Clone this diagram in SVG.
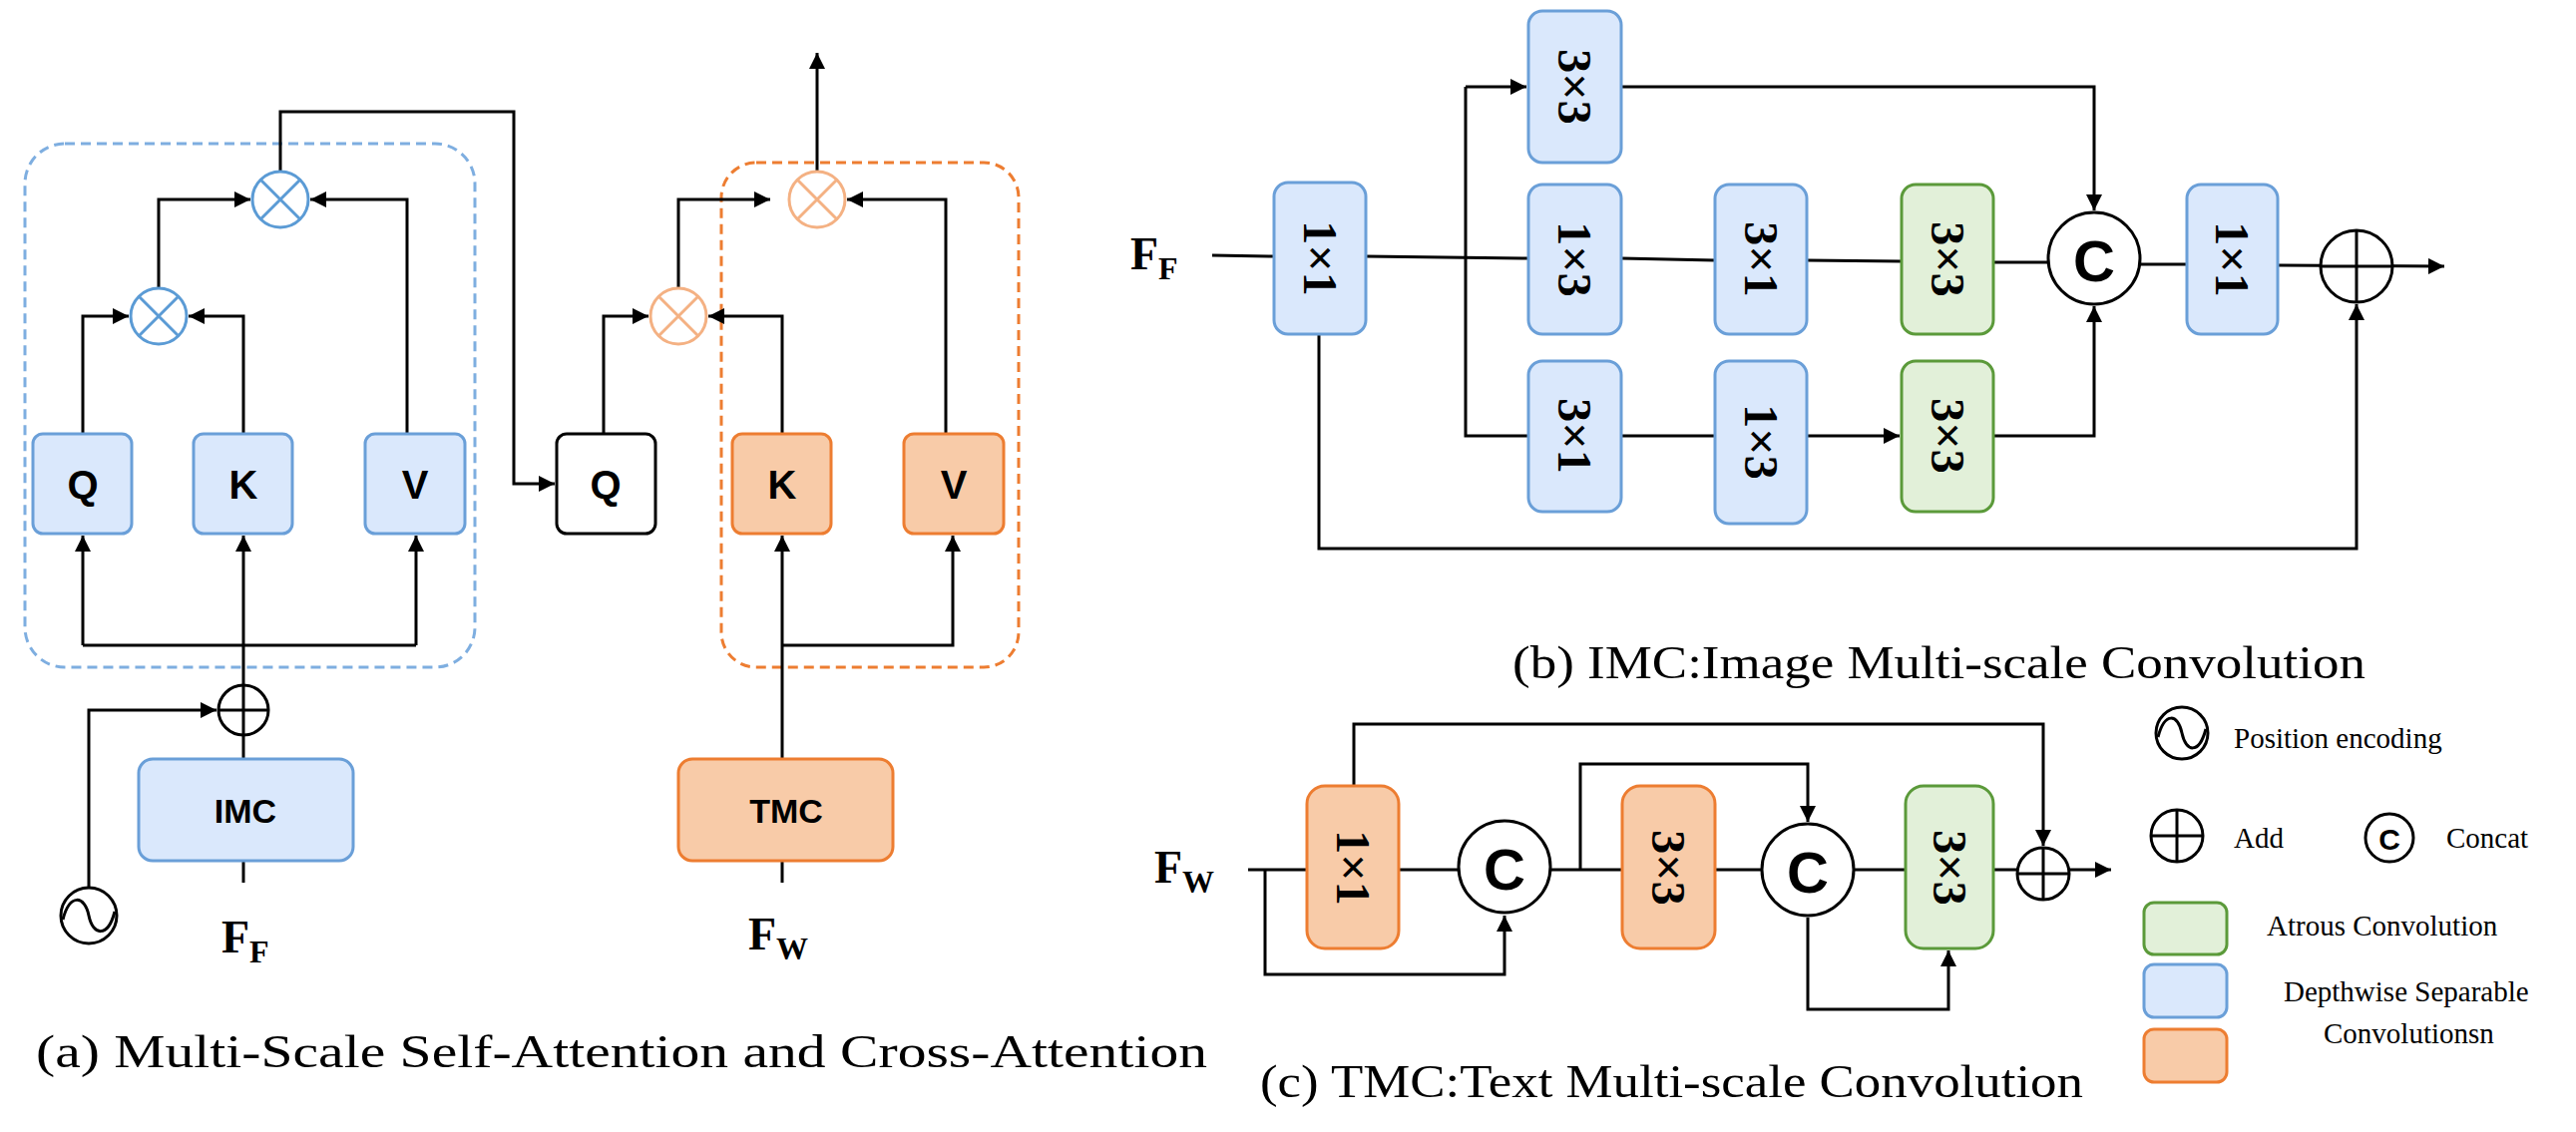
<svg xmlns="http://www.w3.org/2000/svg" width="2582" height="1135" viewBox="0 0 2582 1135">
<style>
.ln{fill:none;stroke:#000;stroke-width:3}
.bl{fill:#dae8fc;stroke:#6a9fd8;stroke-width:3}
.or{fill:#f8cba8;stroke:#ed7d31;stroke-width:3}
.gr{fill:#e2f0d9;stroke:#5b9a3a;stroke-width:3}
.sans{font-family:"Liberation Sans",Arial,sans-serif;font-weight:bold;text-anchor:middle;dominant-baseline:central}
.rot{font-family:"Liberation Serif","Times New Roman",serif;font-weight:bold;font-size:48px;text-anchor:middle;dominant-baseline:central}
.ser{font-family:"Liberation Serif","Times New Roman",serif}
.leg{font-family:"Liberation Serif","Times New Roman",serif;font-size:29px}
.cap{font-family:"Liberation Serif","Times New Roman",serif;font-size:46px}
</style>
<defs>
<marker id="a" viewBox="0 0 10 10" refX="10" refY="5" markerWidth="16" markerHeight="16" markerUnits="userSpaceOnUse" orient="auto"><path d="M0,0L10,5L0,10z" fill="#000"/></marker>
<g id="mulB"><circle r="28" fill="#fff" stroke="#5b9bd5" stroke-width="3"/><path d="M-20,-20L20,20M-20,20L20,-20" stroke="#5b9bd5" stroke-width="3"/></g>
<g id="mulO"><circle r="28" fill="#fff" stroke="#f4b183" stroke-width="3"/><path d="M-20,-20L20,20M-20,20L20,-20" stroke="#f4b183" stroke-width="3"/></g>
</defs>
<rect x="25" y="144" width="451" height="525" rx="40" fill="none" stroke="#7eaee0" stroke-width="3" stroke-dasharray="10,6"/>
<rect x="723" y="163" width="298" height="506" rx="35" fill="none" stroke="#ed7d31" stroke-width="3" stroke-dasharray="10,6"/>
<g id="connectors">
<path class="ln" d="M83,435V317H129" marker-end="url(#a)"/>
<path class="ln" d="M244,435V317H189" marker-end="url(#a)"/>
<path class="ln" d="M159,289V200H251" marker-end="url(#a)"/>
<path class="ln" d="M408,435V200H311" marker-end="url(#a)"/>
<path class="ln" d="M281,172V112H515V485H556" marker-end="url(#a)"/>
<path class="ln" d="M83,647H417"/>
<path class="ln" d="M83,647V537" marker-end="url(#a)"/>
<path class="ln" d="M417,647V537" marker-end="url(#a)"/>
<path class="ln" d="M244,687V537" marker-end="url(#a)"/>
<path class="ln" d="M244,761V737"/>
<path class="ln" d="M244,863V885"/>
<path class="ln" d="M89,889V712H217" marker-end="url(#a)"/>
<path class="ln" d="M605,435V317H650" marker-end="url(#a)"/>
<path class="ln" d="M784,435V317H710" marker-end="url(#a)"/>
<path class="ln" d="M680,289V200H772" marker-end="url(#a)"/>
<path class="ln" d="M948,435V200H849" marker-end="url(#a)"/>
<path class="ln" d="M819,172V53" marker-end="url(#a)"/>
<path class="ln" d="M784,761V537" marker-end="url(#a)"/>
<path class="ln" d="M784,647H955V537" marker-end="url(#a)"/>
<path class="ln" d="M784,863V885"/>
<path class="ln" d="M1215,256L1277,257M1369,257L1532,259M1625,259L1719,261M1811,261L1906,262M1998,263L2053,263M2145,265L2192,265M2283,266L2450,267" marker-end="url(#a)"/>
<path class="ln" d="M1469,87V437H1532"/>
<path class="ln" d="M1469,87H1530" marker-end="url(#a)"/>
<path class="ln" d="M1625,437H1719M1811,437H1904" marker-end="url(#a)"/>
<path class="ln" d="M1625,87H2099V211" marker-end="url(#a)"/>
<path class="ln" d="M1998,437H2099V307" marker-end="url(#a)"/>
<path class="ln" d="M1322,335V550H2362V305" marker-end="url(#a)"/>
<path class="ln" d="M1251,872H1310M1402,872H1465M1553,872H1626M1719,872H1769M1857,872H1910M1998,872H2116" marker-end="url(#a)"/>
<path class="ln" d="M1268,872V977H1508V918" marker-end="url(#a)"/>
<path class="ln" d="M1584,872V766H1812V824" marker-end="url(#a)"/>
<path class="ln" d="M1812,920V1012H1953V953" marker-end="url(#a)"/>
<path class="ln" d="M1357,788V726H2048V848" marker-end="url(#a)"/>
</g>
<g id="mul1"><use href="#mulB" x="159" y="317"/></g>
<g id="mul2"><use href="#mulB" x="281" y="200"/></g>
<g id="mul3"><use href="#mulO" x="680" y="317"/></g>
<g id="mul4"><use href="#mulO" x="819" y="200"/></g>
<g id="Q"><rect class="bl" x="33" y="435" width="99" height="100" rx="10" stroke="#5b9bd5"/><text class="sans" x="83" y="486" font-size="40">Q</text></g>
<g id="K"><rect class="bl" x="194" y="435" width="99" height="100" rx="10" stroke="#5b9bd5"/><text class="sans" x="244" y="486" font-size="40">K</text></g>
<g id="V"><rect class="bl" x="366" y="435" width="100" height="100" rx="10" stroke="#8fb8e6"/><text class="sans" x="416" y="486" font-size="40">V</text></g>
<g id="Q2"><rect x="558" y="435" width="99" height="100" rx="10" fill="#fff" stroke="#000" stroke-width="3"/><text class="sans" x="607" y="486" font-size="40">Q</text></g>
<g id="K2"><rect class="or" x="734" y="435" width="99" height="100" rx="10"/><text class="sans" x="784" y="486" font-size="40">K</text></g>
<g id="V2"><rect class="or" x="906" y="435" width="100" height="100" rx="10"/><text class="sans" x="956" y="486" font-size="40">V</text></g>
<g id="add1"><circle cx="244" cy="712" r="25" fill="#fff" stroke="#000" stroke-width="3"/><path class="ln" d="M219,712H269M244,687V737"/></g>
<g id="pos1"><circle cx="89" cy="918" r="28" fill="#fff" stroke="#000" stroke-width="3"/><path class="ln" d="M63,922C70,895 85,898 89,918C93,938 108,941 115,914"/></g>
<g id="IMC"><rect class="bl" x="139" y="761" width="215" height="102" rx="14" stroke="#5b9bd5"/><text class="sans" x="246" y="813" font-size="34">IMC</text></g>
<g id="TMC"><rect class="or" x="680" y="761" width="215" height="102" rx="14"/><text class="sans" x="788" y="813" font-size="34">TMC</text></g>
<text class="ser" x="222" y="955" font-size="46" font-weight="bold">F<tspan font-size="32" dy="10">F</tspan></text>
<text class="ser" x="750" y="952" font-size="46" font-weight="bold">F<tspan font-size="32" dy="10">W</tspan></text>
<text class="cap" x="36" y="1070" textLength="1174" lengthAdjust="spacingAndGlyphs">(a) Multi-Scale Self-Attention and  Cross-Attention</text>
<text class="ser" x="1133" y="270" font-size="46" font-weight="bold">F<tspan font-size="32" dy="10">F</tspan></text>
<g id="b11"><rect class="bl" x="1277" y="183" width="92" height="152" rx="14"/><text class="rot" transform="translate(1323,259) rotate(90)">1×1</text></g>
<g id="b33t"><rect class="bl" x="1532" y="11" width="93" height="152" rx="14"/><text class="rot" transform="translate(1578,87) rotate(90)">3×3</text></g>
<g id="b13"><rect class="bl" x="1532" y="185" width="93" height="150" rx="14"/><text class="rot" transform="translate(1578,260) rotate(90)">1×3</text></g>
<g id="b31"><rect class="bl" x="1719" y="185" width="92" height="150" rx="14"/><text class="rot" transform="translate(1765,260) rotate(90)">3×1</text></g>
<g id="b33g"><rect class="gr" x="1906" y="185" width="92" height="150" rx="14"/><text class="rot" transform="translate(1952,260) rotate(90)">3×3</text></g>
<g id="bC"><circle cx="2099" cy="259" r="46" fill="#fff" stroke="#000" stroke-width="3"/><text class="sans" x="2099" y="261" font-size="58">C</text></g>
<g id="b11r"><rect class="bl" x="2192" y="185" width="91" height="150" rx="14"/><text class="rot" transform="translate(2237,260) rotate(90)">1×1</text></g>
<g id="bAdd"><circle cx="2362" cy="267" r="36" fill="#fff" stroke="#000" stroke-width="3"/><path class="ln" d="M2326,267H2398M2362,231V303"/></g>
<g id="b31b"><rect class="bl" x="1532" y="362" width="93" height="151" rx="14"/><text class="rot" transform="translate(1578,437) rotate(90)">3×1</text></g>
<g id="b13b"><rect class="bl" x="1719" y="362" width="92" height="163" rx="14"/><text class="rot" transform="translate(1765,443) rotate(90)">1×3</text></g>
<g id="b33gb"><rect class="gr" x="1906" y="362" width="92" height="151" rx="14"/><text class="rot" transform="translate(1952,437) rotate(90)">3×3</text></g>
<text class="cap" x="1516" y="680" textLength="855" lengthAdjust="spacingAndGlyphs">(b) IMC:Image Multi-scale Convolution</text>
<text class="ser" x="1157" y="885" font-size="46" font-weight="bold">F<tspan font-size="32" dy="10">W</tspan></text>
<g id="c11"><rect class="or" x="1310" y="788" width="92" height="163" rx="18"/><text class="rot" transform="translate(1356,870) rotate(90)">1×1</text></g>
<g id="cC1"><circle cx="1508" cy="869" r="46" fill="#fff" stroke="#000" stroke-width="3"/><text class="sans" x="1508" y="871" font-size="58">C</text></g>
<g id="c33"><rect class="or" x="1626" y="788" width="93" height="163" rx="18"/><text class="rot" transform="translate(1672,870) rotate(90)">3×3</text></g>
<g id="cC2"><circle cx="1812" cy="872" r="46" fill="#fff" stroke="#000" stroke-width="3"/><text class="sans" x="1812" y="874" font-size="58">C</text></g>
<g id="c33g"><rect class="gr" x="1910" y="788" width="88" height="163" rx="18"/><text class="rot" transform="translate(1954,870) rotate(90)">3×3</text></g>
<g id="cAdd"><circle cx="2048" cy="876" r="26" fill="#fff" stroke="#000" stroke-width="3"/><path class="ln" d="M2022,876H2074M2048,850V902"/></g>
<text class="cap" x="1263" y="1100" textLength="825" lengthAdjust="spacingAndGlyphs">(c) TMC:Text Multi-scale Convolution</text>
<g id="legend">
<circle cx="2187" cy="735" r="26" fill="#fff" stroke="#000" stroke-width="3"/><path class="ln" d="M2163,739C2170,713 2183,716 2187,735C2191,754 2204,757 2211,731"/>
<text class="leg" x="2239" y="750">Position encoding</text>
<circle cx="2182" cy="838" r="26" fill="#fff" stroke="#000" stroke-width="3"/><path class="ln" d="M2156,838H2208M2182,812V864"/>
<text class="leg" x="2239" y="850">Add</text>
<circle cx="2395" cy="840" r="24" fill="#fff" stroke="#000" stroke-width="3"/><text class="sans" x="2395" y="841" font-size="30">C</text>
<text class="leg" x="2452" y="850">Concat</text>
<rect class="gr" x="2149" y="905" width="83" height="52" rx="10"/><text class="leg" x="2272" y="938">Atrous Convolution</text>
<rect class="bl" x="2149" y="967" width="83" height="53" rx="10"/><text class="leg" x="2289" y="1004">Depthwise Separable</text>
<text class="leg" x="2329" y="1046">Convolutionsn</text>
<rect class="or" x="2149" y="1032" width="83" height="53" rx="10"/>
</g>
</svg>
